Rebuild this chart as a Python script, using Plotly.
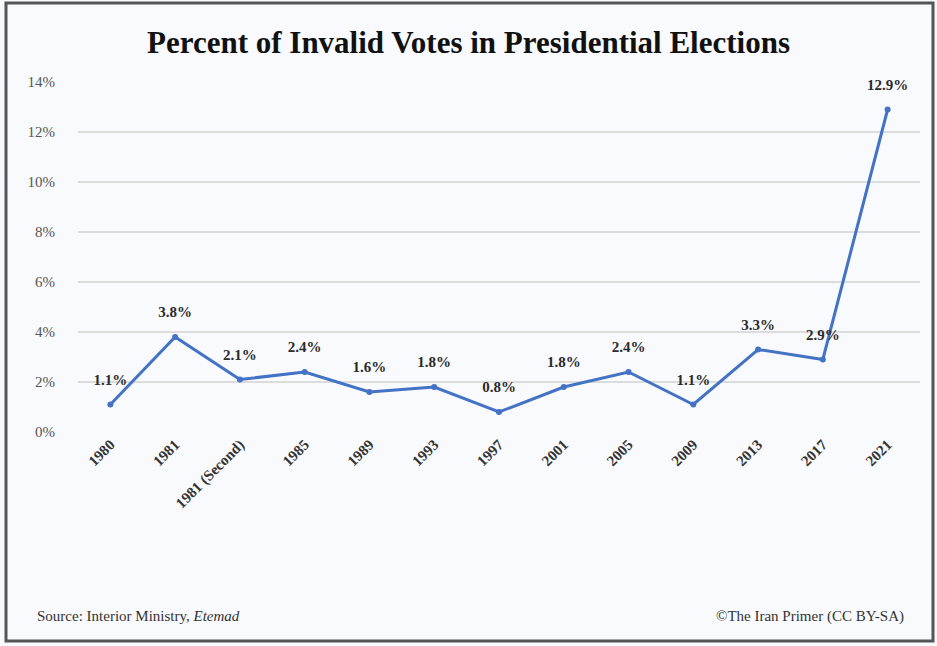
import plotly.graph_objects as go

years = ["1980", "1981", "1981 (Second)", "1985", "1989", "1993", "1997",
         "2001", "2005", "2009", "2013", "2017", "2021"]
invalid_pct = [1.1, 3.8, 2.1, 2.4, 1.6, 1.8, 0.8, 1.8, 2.4, 1.1, 3.3, 2.9, 12.9]
labels = [f"<b>{v:.1f}%</b>" for v in invalid_pct]

W, H = 937, 646
L, R, T, B = 78, 17, 82, 214
pw, ph = W - L - R, H - T - B

def px_x(x):
    return (x - L) / pw

def px_y(y):
    return (H - B - y) / ph

serif = "Liberation Serif, Times New Roman, serif"

fig = go.Figure()
fig.add_trace(go.Scatter(
    x=years, y=invalid_pct, mode="lines+markers",
    line=dict(color="#4472C4", width=3),
    marker=dict(color="#4472C4", size=6),
    cliponaxis=False, showlegend=False, hoverinfo="skip",
))
fig.add_trace(go.Scatter(
    x=years, y=invalid_pct, mode="markers+text",
    marker=dict(color="rgba(0,0,0,0)", size=24),
    text=labels, textposition="top center",
    textfont=dict(family=serif, size=15, color="#2b2b2b"),
    cliponaxis=False, showlegend=False,
))

fig.update_layout(
    width=W, height=H,
    margin=dict(l=L, r=R, t=T, b=B),
    paper_bgcolor="#f8fafd", plot_bgcolor="#f8fafd",
    title=dict(text="<b>Percent of Invalid Votes in Presidential Elections</b>",
               x=0.5, xanchor="center", y=1 - 42 / H, yanchor="middle",
               font=dict(family=serif, size=31, color="#111111")),
    xaxis=dict(type="category", tickangle=-45, showgrid=False, zeroline=False,
               showline=False, ticks="", range=[-0.5, len(years) - 0.5],
               tickvals=years, ticktext=[f"<b>{y}</b>" for y in years],
               tickfont=dict(family=serif, size=15, color="#333333")),
    yaxis=dict(range=[0, 14], dtick=2, ticksuffix="%", showgrid=True,
               gridcolor="#dcdcdc", gridwidth=1.5, zeroline=False, showline=False,
               ticks="", ticklabelstandoff=22,
               tickfont=dict(family=serif, size=15, color="#555555")),
    shapes=[dict(type="rect", xref="paper", yref="paper",
                 x0=px_x(6), x1=px_x(933), y0=px_y(641), y1=px_y(3),
                 line=dict(color="#555555", width=3))],
    annotations=[
        dict(text="Source: Interior Ministry, <i>Etemad</i>", xref="paper", yref="paper",
             x=px_x(35), y=px_y(616), xanchor="left", yanchor="middle", showarrow=False,
             font=dict(family=serif, size=15, color="#333333")),
        dict(text="©The Iran Primer (CC BY-SA)", xref="paper", yref="paper",
             x=px_x(906), y=px_y(616), xanchor="right", yanchor="middle", showarrow=False,
             font=dict(family=serif, size=15, color="#333333")),
    ],
)

fig.write_html("out.html")
